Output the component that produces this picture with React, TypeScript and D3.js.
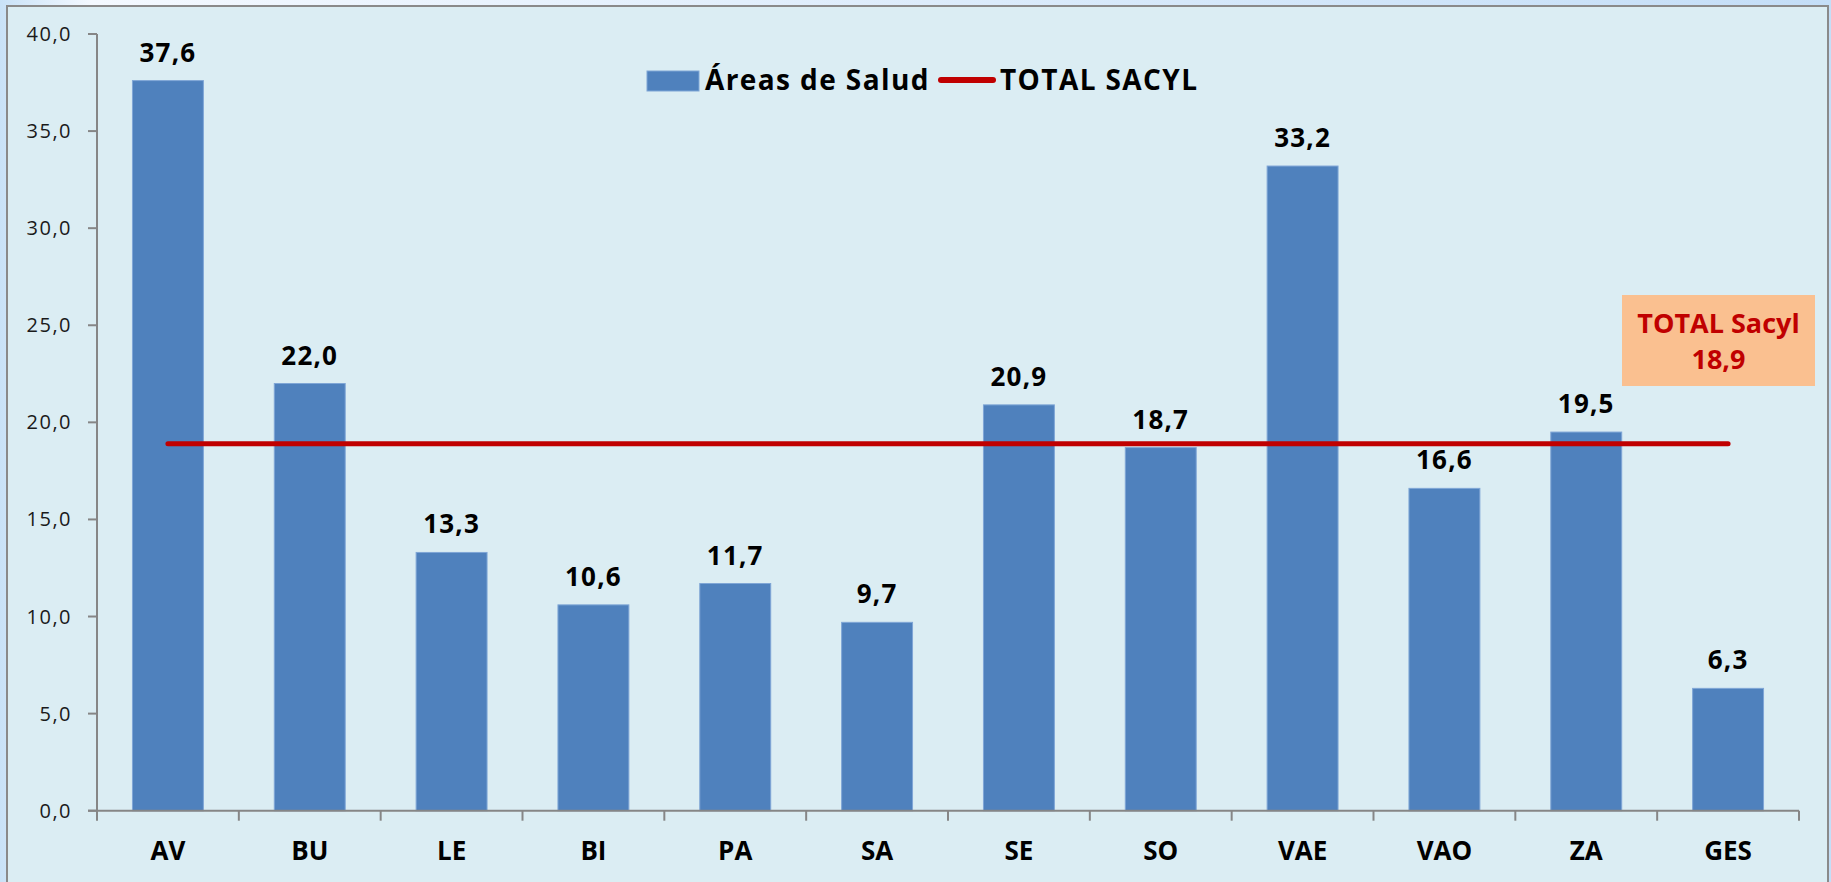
import React from "react";
import * as d3 from "d3";

const categories = ["AV", "BU", "LE", "BI", "PA", "SA", "SE", "SO", "VAE", "VAO", "ZA", "GES"];
const values = [37.6, 22.0, 13.3, 10.6, 11.7, 9.7, 20.9, 18.7, 33.2, 16.6, 19.5, 6.3];
const totalSacyl = 18.9;
const yTicks = [0, 5, 10, 15, 20, 25, 30, 35, 40];
const barSeriesName = "Áreas de Salud";
const lineSeriesName = "TOTAL SACYL";
const annotationLines = ["TOTAL Sacyl", "18,9"];

const W = 1831;
const H = 882;
const FONT = "'Open Sans', 'Noto Sans', sans-serif";

const fmt = (v: number) => v.toFixed(1).replace(".", ",");

export default function App() {
  const x = d3
    .scaleBand<string>()
    .domain(categories)
    .range([97, 1799])
    .paddingInner(0.5)
    .paddingOuter(0.25);
  const y = d3.scaleLinear().domain([0, 40]).range([810.7, 34]);
  const step = x.step();
  const x0 = 97;
  const x1 = 1799;
  const firstC = (x(categories[0]) as number) + x.bandwidth() / 2;
  const lastC = (x(categories[categories.length - 1]) as number) + x.bandwidth() / 2;
  const lineGen = d3.line<number>().x((d) => d).y(() => y(totalSacyl));

  return (
    <div style={{ position: "fixed", left: 0, top: 0 }}>
      <svg width={W} height={H} style={{ display: "block" }}>
        <defs>
          <linearGradient id="outerGrad" x1="0" y1="0" x2="1" y2="0">
            <stop offset="0" stopColor="#c9e2f7" />
            <stop offset="0.05" stopColor="#f4f9ff" />
            <stop offset="1" stopColor="#c4def7" />
          </linearGradient>
        </defs>
        <rect x={0} y={0} width={W} height={H} fill="url(#outerGrad)" />
        <rect x={7} y={6} width={1821} height={H} fill="#dbedf3" stroke="#8a8a8a" strokeWidth={2} />

        {/* legend */}
        <rect x={647} y={71} width={52} height={20} fill="#4f81bd" stroke="#7fa6d6" strokeWidth={1} />
        <text x={705} y={90} fontFamily={FONT} fontWeight={700} fontSize={28} letterSpacing={1.4} fill="#000">
          {barSeriesName}
        </text>
        <line x1={941} x2={993} y1={80} y2={80} stroke="#c00000" strokeWidth={6} strokeLinecap="round" />
        <text x={1000} y={90} fontFamily={FONT} fontWeight={700} fontSize={28} letterSpacing={1.4} fill="#000">
          {lineSeriesName}
        </text>

        {/* bars */}
        {values.map((v, i) => (
          <rect
            key={categories[i]}
            x={x(categories[i])}
            y={y(v)}
            width={x.bandwidth()}
            height={y(0) - y(v)}
            fill="#4f81bd"
            stroke="#7fa6d6"
            strokeWidth={1}
          />
        ))}

        {/* total line */}
        <path d={lineGen([firstC, lastC]) || ""} stroke="#c00000" strokeWidth={5} strokeLinecap="round" fill="none" />

        {/* value labels */}
        {values.map((v, i) => (
          <text
            key={"l" + categories[i]}
            x={(x(categories[i]) as number) + x.bandwidth() / 2}
            y={y(v) - 19}
            textAnchor="middle"
            fontFamily={FONT}
            fontWeight={700}
            fontSize={26}
            letterSpacing={1.2}
            fill="#000"
          >
            {fmt(v)}
          </text>
        ))}

        {/* y axis */}
        <line x1={97} x2={97} y1={y(40)} y2={y(0)} stroke="#868686" strokeWidth={2} />
        {yTicks.map((t) => (
          <g key={"y" + t}>
            <line x1={88} x2={97} y1={y(t)} y2={y(t)} stroke="#868686" strokeWidth={2} />
            <text
              x={72}
              y={y(t) + 7}
              textAnchor="end"
              fontFamily={FONT}
              fontSize={20}
              letterSpacing={1.5}
              fill="#1a1a1a"
            >
              {fmt(t)}
            </text>
          </g>
        ))}

        {/* x axis */}
        <line x1={x0 - 9} x2={x1} y1={y(0)} y2={y(0)} stroke="#868686" strokeWidth={2} />
        {d3.range(categories.length + 1).map((i) => (
          <line
            key={"xt" + i}
            x1={x0 + i * step}
            x2={x0 + i * step}
            y1={y(0)}
            y2={y(0) + 10}
            stroke="#868686"
            strokeWidth={2}
          />
        ))}
        {categories.map((c) => (
          <text
            key={"xl" + c}
            x={(x(c) as number) + x.bandwidth() / 2}
            y={860}
            textAnchor="middle"
            fontFamily={FONT}
            fontWeight={700}
            fontSize={26}
            fill="#000"
          >
            {c}
          </text>
        ))}

        {/* annotation */}
        <rect x={1622} y={295} width={193} height={91} fill="#fac090" />
        <text x={1718.5} y={333} textAnchor="middle" fontFamily={FONT} fontWeight={700} fontSize={27} fill="#c00000">
          {annotationLines[0]}
        </text>
        <text x={1718.5} y={369} textAnchor="middle" fontFamily={FONT} fontWeight={700} fontSize={27} fill="#c00000">
          {annotationLines[1]}
        </text>
      </svg>
    </div>
  );
}
